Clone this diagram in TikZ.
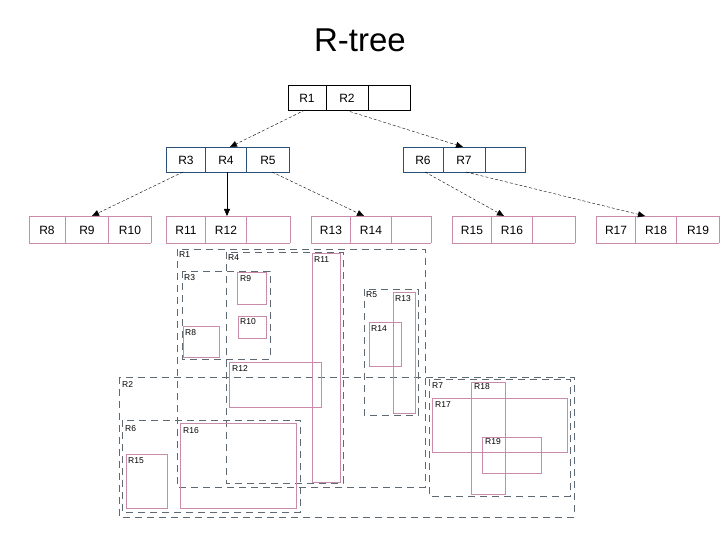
\documentclass[tikz,border=0pt]{standalone}
\usepackage{fontspec}
\setmainfont{Liberation Sans}
\usetikzlibrary{arrows.meta}
\definecolor{pk}{RGB}{200,140,170}
\definecolor{dg}{RGB}{95,105,115}
\definecolor{nb}{RGB}{40,80,120}
\begin{document}
\begin{tikzpicture}[x=1pt,y=-1pt,
  cell/.style={font=\fontsize{12}{12}\selectfont},
  arr/.style={-{Triangle[length=7pt,width=6pt]},densely dashed,thin},
  arrs/.style={-{Triangle[length=7pt,width=6pt]},thin},
  dreg/.style={draw=dg,dash pattern=on 7pt off 5pt,thin},
  preg/.style={draw=pk,thin},
  lab/.style={font=\fontsize{8.5}{8.5}\selectfont,anchor=north west,inner sep=1pt}]
\useasboundingbox (0,0) rectangle (720,540);
\fill[white] (0,0) rectangle (720,540);
\node[font=\fontsize{33}{33}\selectfont] (title) at (360,40) {R-tree};
% top node
\draw (288,85) rectangle (410,110);
\draw (326,85)--(326,110) (368,85)--(368,110);
\node[cell] (r1) at (307,98) {R1};
\node[cell] (r2) at (347,98) {R2};
% mid nodes
\draw[nb] (166,147) rectangle (289,172);
\draw[nb] (205,147)--(205,172) (246,147)--(246,172);
\node[cell] (r3) at (186,160) {R3};
\node[cell] (r4) at (226,160) {R4};
\node[cell] (r5) at (268,160) {R5};
\draw[nb] (403,147) rectangle (525,172);
\draw[nb] (443,147)--(443,172) (485,147)--(485,172);
\node[cell] (r6) at (423,160) {R6};
\node[cell] (r7) at (464,160) {R7};
% leaves
\foreach \a/\b/\c/\d in {29/65/108/151,166/205/246/290,311/350/391/431,452/491/532/575,596/635/676/719}{
  \draw[pk] (\a,216)--(\d,216) (\a,243)--(\d,243);
  \draw[pk] (\a,216)--(\a,243) (\b,216)--(\b,243) (\c,216)--(\c,243) (\d,216)--(\d,243);
}
\node[cell] (r8) at (47,230) {R8};
\node[cell] (r9) at (87,230) {R9};
\node[cell] (r10) at (130,230) {R10};
\node[cell] (r11) at (186,230) {R11};
\node[cell] (r12) at (226,230) {R12};
\node[cell] (r13) at (331,230) {R13};
\node[cell] (r14) at (371,230) {R14};
\node[cell] (r15) at (472,230) {R15};
\node[cell] (r16) at (512,230) {R16};
\node[cell] (r17) at (616,230) {R17};
\node[cell] (r18) at (656,230) {R18};
\node[cell] (r19) at (698,230) {R19};
\coordinate (a1) at (305,110); \coordinate (b1) at (230,147);
\coordinate (a2) at (345,110); \coordinate (b2) at (463,147);
\coordinate (a3) at (183,172); \coordinate (b3) at (92,216);
\coordinate (a4) at (227,172); \coordinate (b4) at (227,216);
\coordinate (a5) at (272,172); \coordinate (b5) at (364,216);
\coordinate (a6) at (425,172); \coordinate (b6) at (504,216);
\coordinate (a7) at (466,172); \coordinate (b7) at (645,216);
\draw[arr] (a1)--(b1);
\draw[arr] (a2)--(b2);
\draw[arr] (a3)--(b3);
\draw[arrs] (a4)--(b4);
\draw[arr] (a5)--(b5);
\draw[arr] (a6)--(b6);
\draw[arr] (a7)--(b7);
% regions
\draw[dreg] (177,249) rectangle (425,487); \node[lab] at (178,250) {R1};
\draw[dreg] (226,252) rectangle (343,483); \node[lab] at (227,253) {R4};
\draw[dreg] (182,271) rectangle (270,359); \node[lab] at (183,273) {R3};
\draw[dreg] (364,289) rectangle (418,415); \node[lab] at (365,290) {R5};
\draw[dreg] (119,377) rectangle (574,517); \node[lab] at (121,380) {R2};
\draw[dreg] (122,420) rectangle (300,512); \node[lab] at (124,424) {R6};
\draw[dreg] (429,379) rectangle (570,496); \node[lab] at (431,381) {R7};
\draw[preg] (237,272) rectangle (266,304); \node[lab] at (239,274) {R9};
\draw[preg] (238,316) rectangle (266,338); \node[lab] at (239,317) {R10};
\draw[preg] (183,326) rectangle (219,357); \node[lab] at (184,328) {R8};
\draw[preg] (312,253) rectangle (340,482); \node[lab] at (313,255) {R11};
\draw[preg] (229,362) rectangle (321,407); \node[lab] at (231,364) {R12};
\draw[preg] (393,292) rectangle (415,413); \node[lab] at (394,294) {R13};
\draw[preg] (369,322) rectangle (401,366); \node[lab] at (370,324) {R14};
\draw[preg] (126,454) rectangle (167,508); \node[lab] at (127,456) {R15};
\draw[preg] (180,423) rectangle (296,508); \node[lab] at (182,426) {R16};
\draw[preg] (471,382) rectangle (505,494); \node[lab] at (473,382) {R18};
\draw[preg] (432,398) rectangle (567,452); \node[lab] at (434,400) {R17};
\draw[preg] (482,437) rectangle (541,473); \node[lab] at (484,437) {R19};
\end{tikzpicture}
\end{document}
